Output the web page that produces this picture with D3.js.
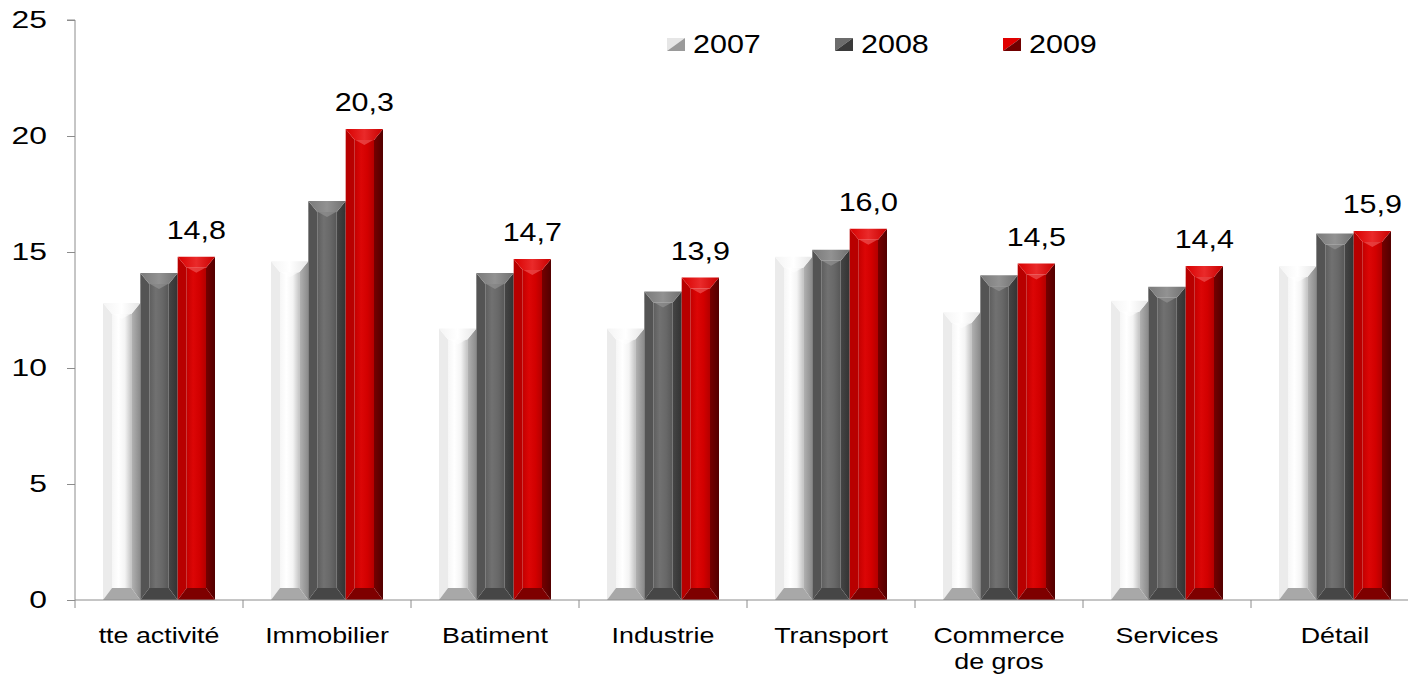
<!DOCTYPE html>
<html>
<head>
<meta charset="utf-8">
<script src="https://cdn.jsdelivr.net/npm/d3@7"></script>
<style>
  body { margin: 0; background: #fff; }
  svg { display: block; font-family: "Liberation Sans", Arial, sans-serif; }
</style>
</head>
<body>
<div id="chart"></div>
<script>
const categories = ["tte activité", "Immobilier", "Batiment", "Industrie", "Transport", "Commerce\nde gros", "Services", "Détail"];
const years = ["2007", "2008", "2009"];
const values2007 = [12.8, 14.6, 11.7, 11.7, 14.8, 12.4, 12.9, 14.4];
const values2008 = [14.1, 17.2, 14.1, 13.3, 15.1, 14.0, 13.5, 15.8];
const values2009 = [14.8, 20.3, 14.7, 13.9, 16.0, 14.5, 14.4, 15.9];
const yTicks = [0, 5, 10, 15, 20, 25];

const seriesValues = { "2007": values2007, "2008": values2008, "2009": values2009 };

const width = 1408, height = 675;
const sx = 1.22; // text in the source is stretched horizontally

// bevel palettes: face gradient, left, right, top, bottom
const palettes = {
  "2007": { face: ["#f6f6f6", "#ffffff", "#f4f4f4", "#c4c4c4"], left: "#ebebeb", right: ["#b4b4b4", "#8a8a8a"], top: ["#f4f4f4", "#ffffff", "#e6e6e6"], bottom: "#a8a8a8", hi: "#ffffff", mk: ["#e6e6e6", "#9a9a9a"] },
  "2008": { face: ["#5e5e5e", "#717171", "#686868", "#575757"], left: "#545454", right: ["#454545", "#333333"], top: ["#7a7a7a", "#929292", "#707070"], bottom: "#464646", hi: "#9c9c9c", mk: ["#6c6c6c", "#3a3a3a"] },
  "2009": { face: ["#c40000", "#dc0606", "#d20000", "#b40000"], left: "#b80000", right: ["#760000", "#520000"], top: ["#d80000", "#ea2a2a", "#c80000"], bottom: "#7e0000", hi: "#f46a6a", mk: ["#e00000", "#700000"] }
};

const svg = d3.select("#chart").append("svg")
  .attr("width", width)
  .attr("height", height);

const defs = svg.append("defs");
function hGrad(id, stops) {
  const g = defs.append("linearGradient").attr("id", id)
    .attr("x1", "0%").attr("x2", "100%").attr("y1", "0%").attr("y2", "0%");
  stops.forEach((c, i) => g.append("stop")
    .attr("offset", (i / (stops.length - 1)) * 100 + "%")
    .attr("stop-color", c));
}
years.forEach(yr => {
  const p = palettes[yr];
  hGrad("face" + yr, p.face);
  hGrad("right" + yr, p.right);
  hGrad("top" + yr, p.top);
});

// scales
const y = d3.scaleLinear().domain([0, 25]).range([600, 20]);
const x0 = d3.scaleBand().domain(categories).range([75, 1419]).paddingInner(0).paddingOuter(0);
const x1 = d3.scaleBand().domain(years).range([0, x0.bandwidth()]).paddingInner(0).paddingOuter(0.75);

// y axis
const yAxis = svg.append("g")
  .attr("transform", "translate(75,0)")
  .call(d3.axisLeft(y).tickValues(yTicks).tickSize(8).tickPadding(20).tickFormat(d3.format("d")));
yAxis.select(".domain").attr("stroke", "#8c8c8c").attr("d", `M-8,${y(25)}H0V${y(0)}`);
yAxis.selectAll(".tick line").attr("stroke", "#8c8c8c");
yAxis.selectAll(".tick text")
  .attr("font-size", 24.5)
  .attr("fill", "#000")
  .attr("font-family", "Liberation Sans, Arial, sans-serif")
  .each(function () {
    const t = d3.select(this);
    t.attr("x", +t.attr("x") / 1.3).attr("transform", "scale(1.3,1)");
  });

// bars
const pts = a => a.map(p => p.join(",")).join(" ");
function drawBar(g, xl, w, yt, yb, yr) {
  const p = palettes[yr];
  const b = 9, bt = Math.min(11, (yb - yt) / 3), bb = Math.min(12, (yb - yt) / 3);
  const xr = xl + w, xm = xl + w / 2;
  g.append("polygon").attr("points", pts([[xl + b, yt + bt], [xr - b, yt + bt], [xr - b, yb - bb], [xl + b, yb - bb]]))
    .attr("fill", `url(#face${yr})`);
  g.append("polygon").attr("points", pts([[xl, yt], [xl + b, yt + bt], [xl + b, yb - bb], [xl, yb]]))
    .attr("fill", p.left);
  g.append("polygon").attr("points", pts([[xr, yt], [xr - b, yt + bt], [xr - b, yb - bb], [xr, yb]]))
    .attr("fill", `url(#right${yr})`);
  g.append("polygon").attr("points", pts([[xl, yt], [xr, yt], [xr - b, yt + bt], [xl + b, yt + bt]]))
    .attr("fill", `url(#top${yr})`);
  // soft highlight wedge on the top bevel
  g.append("polygon").attr("points", pts([[xm - 9, yt + bt], [xm + 9, yt + bt], [xm, yt + bt + 5]]))
    .attr("fill", p.hi).attr("opacity", 0.55);
  g.append("polygon").attr("points", pts([[xl + b, yb - bb], [xr - b, yb - bb], [xr, yb], [xl, yb]]))
    .attr("fill", p.bottom);
}

const groups = svg.append("g").selectAll("g")
  .data(categories)
  .join("g")
  .attr("transform", d => `translate(${x0(d)},0)`);

groups.each(function (cat, i) {
  const g = d3.select(this);
  years.forEach(yr => {
    const v = seriesValues[yr][i];
    drawBar(g.append("g"), x1(yr), x1.bandwidth(), y(v), y(0), yr);
  });
});

// x axis
const xAxis = svg.append("g").attr("transform", `translate(0,${y(0)})`);
xAxis.append("line").attr("x1", 75).attr("x2", 1419).attr("stroke", "#8c8c8c");
xAxis.selectAll(".bound")
  .data(categories.slice(1))
  .join("line")
  .attr("class", "bound")
  .attr("x1", d => x0(d)).attr("x2", d => x0(d))
  .attr("y1", 0).attr("y2", 8)
  .attr("stroke", "#8c8c8c");
xAxis.append("line").attr("x1", 75).attr("x2", 75).attr("y1", 0).attr("y2", 8).attr("stroke", "#8c8c8c");

// category labels
svg.append("g").selectAll("g")
  .data(categories)
  .join("g")
  .attr("transform", d => `translate(${x0(d) + x0.bandwidth() / 2},643)`)
  .each(function (d) {
    const t = d3.select(this).append("text")
      .attr("text-anchor", "middle")
      .attr("font-size", 22)
      .attr("fill", "#000")
      .attr("transform", `scale(${sx},1)`);
    d.split("\n").forEach((line, k) => {
      t.append("tspan").attr("x", 0).attr("dy", k === 0 ? 0 : 26).text(line);
    });
  });

// value labels on 2009 bars
const fmt = v => d3.format(".1f")(v).replace(".", ",");
svg.append("g").selectAll("g")
  .data(categories)
  .join("g")
  .attr("transform", (d, i) => `translate(${x0(d) + x1("2009") + x1.bandwidth() / 2},${y(values2009[i]) - 18})`)
  .append("text")
  .attr("text-anchor", "middle")
  .attr("font-size", 25)
  .attr("fill", "#000")
  .attr("transform", `scale(${sx},1)`)
  .text((d, i) => fmt(values2009[i]));

// legend
const legend = svg.append("g").selectAll("g")
  .data(years)
  .join("g")
  .attr("transform", (d, i) => `translate(${667 + i * 168},38)`);
legend.append("polygon").attr("points", pts([[0, 0], [18, 0], [0, 13]])).attr("fill", d => palettes[d].mk[0]);
legend.append("polygon").attr("points", pts([[18, 0], [18, 13], [0, 13]])).attr("fill", d => palettes[d].mk[1]);
legend.append("text")
  .attr("transform", `translate(26,15) scale(${sx},1)`)
  .attr("font-size", 25)
  .attr("fill", "#000")
  .text(d => d);
</script>
</body>
</html>
